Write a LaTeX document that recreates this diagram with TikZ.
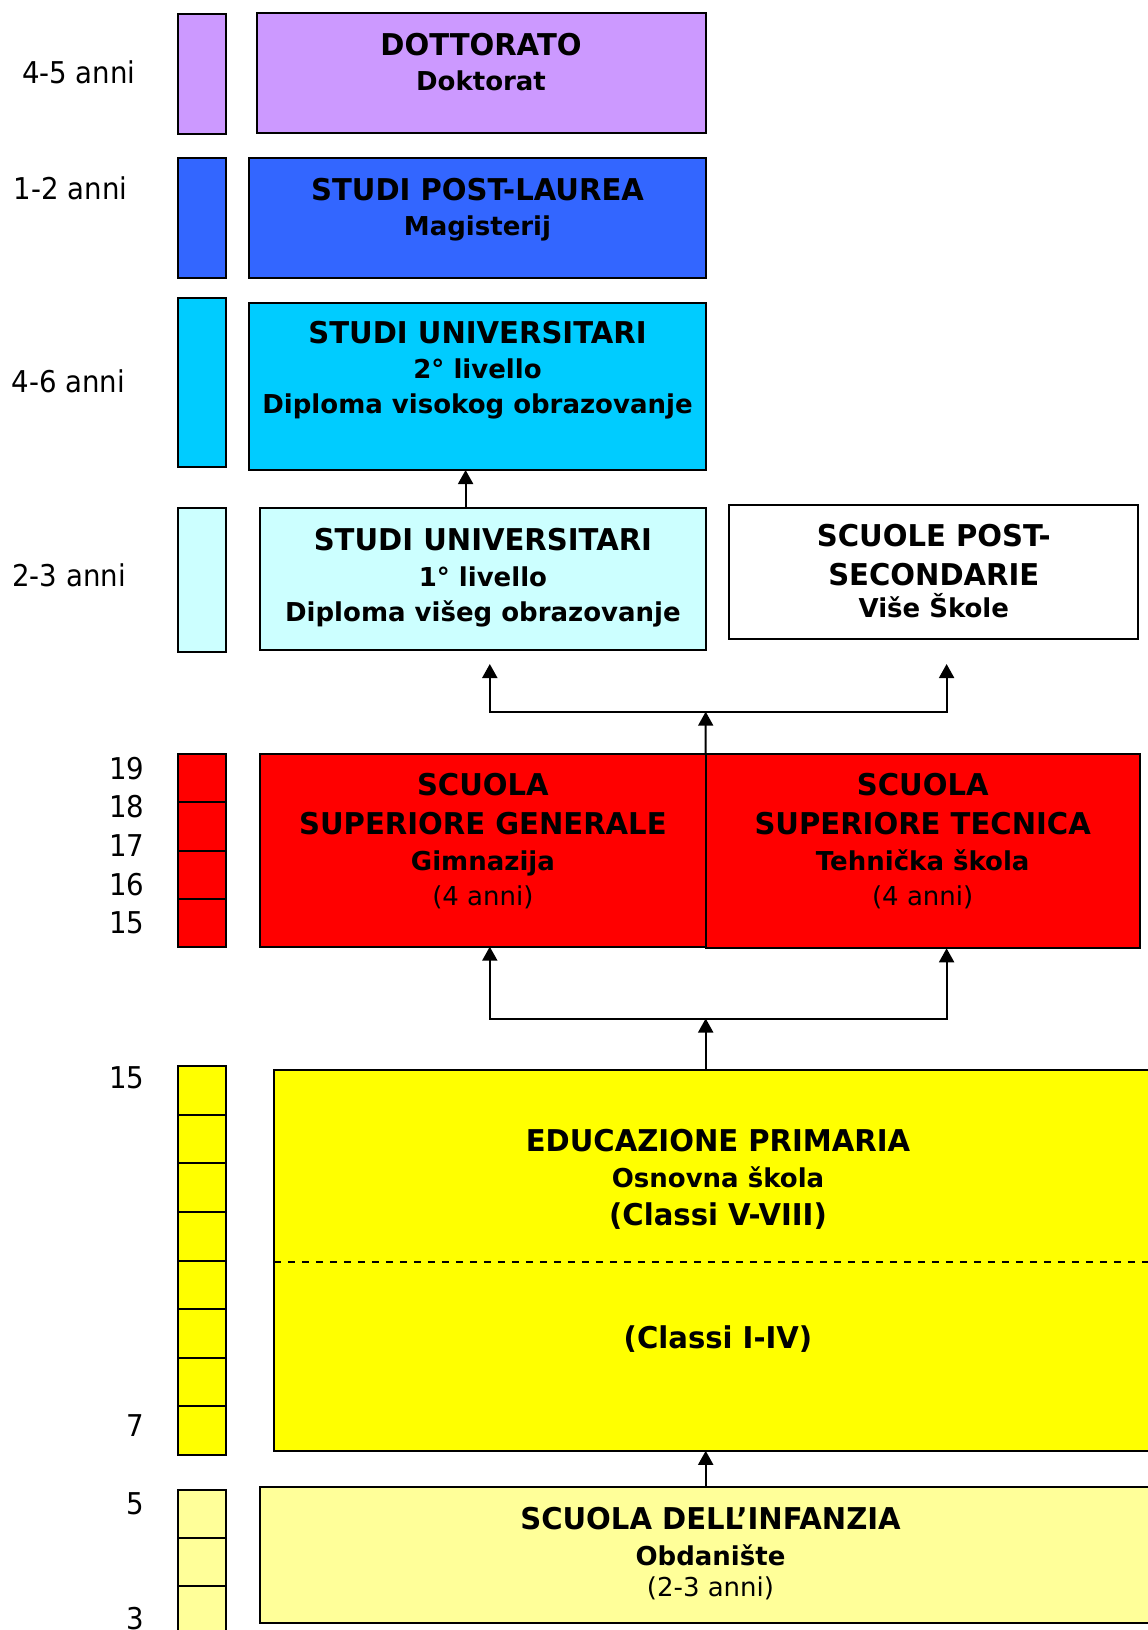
\documentclass[tikz,border=0pt]{standalone}
\usepackage{fontspec}
\setmainfont{DejaVu Sans}
\newfontfamily\capf{DejaVu Sans}[FakeStretch=0.97]
\newfontfamily\labf{DejaVu Sans}[FakeStretch=0.92]
\usetikzlibrary{arrows.meta}
\definecolor{cDoc}{HTML}{CC99FF}
\definecolor{cPL}{HTML}{3366FF}
\definecolor{cUtwo}{HTML}{00CCFF}
\definecolor{cUone}{HTML}{CCFFFF}
\definecolor{cRed}{HTML}{FF0000}
\definecolor{cYel}{HTML}{FFFF00}
\definecolor{cLY}{HTML}{FFFF99}
\tikzset{
  box/.style={draw=black, line width=2pt, inner sep=0pt, outer sep=0pt, anchor=north west},
  stripbox/.style={draw=black, line width=2pt},
  capt/.style={inner sep=0pt, outer sep=0pt, anchor=base, font=\capf\bfseries\fontsize{30}{36}\selectfont},
  lowt/.style={inner sep=0pt, outer sep=0pt, anchor=base, font=\bfseries\fontsize{26}{31}\selectfont},
  regt/.style={inner sep=0pt, outer sep=0pt, anchor=base, font=\fontsize{26}{31}\selectfont},
  labt/.style={inner sep=0pt, outer sep=0pt, font=\labf\fontsize{30}{36}\selectfont},
  arr/.style={line width=2pt, -{Triangle[length=14pt,width=15pt]}},
  arrtwo/.style={line width=2pt, {Triangle[length=14pt,width=15pt]}-{Triangle[length=14pt,width=15pt]}}
}
\begin{document}
\begin{tikzpicture}[x=1pt,y=-1pt]
\useasboundingbox (0,0) rectangle (1148,1630);

% ---- left strips ----
\draw[stripbox, fill=cDoc] (178,14.3) rectangle (226,134.3);
\draw[stripbox, fill=cPL] (178,158.3) rectangle (226,278.3);
\draw[stripbox, fill=cUtwo] (178,298.3) rectangle (226,466.7);
\draw[stripbox, fill=cUone] (178,507.7) rectangle (226,652.3);
\draw[stripbox, fill=cRed] (178,754.3) rectangle (226,946.7);
\foreach \k in {1,2,3} \draw[line width=2pt] (178,{754.3+48.1*\k}) -- (226,{754.3+48.1*\k});
\draw[stripbox, fill=cYel] (178,1066.3) rectangle (226,1454.8);
\foreach \k in {1,...,7} \draw[line width=2pt] (178,{1066.3+48.56*\k}) -- (226,{1066.3+48.56*\k});
\draw[stripbox, fill=cLY] (178,1490) rectangle (226,1660);
\foreach \k in {1,2,3} \draw[line width=2pt] (178,{1490+48*\k}) -- (226,{1490+48*\k});

% ---- left labels ----
\node[labt, anchor=base west] (l45) at (22,83.3) {4-5 anni};
\node[labt, anchor=base west] (l12) at (13.8,199.3) {1-2 anni};
\node[labt, anchor=base west] (l46) at (11.5,392.7) {4-6 anni};
\node[labt, anchor=base west] (l23) at (12.4,586) {2-3 anni};
\node[labt, anchor=base east] (n19) at (144.5,779) {19};
\node[labt, anchor=base east] (n18) at (144.5,817.7) {18};
\node[labt, anchor=base east] (n17) at (144.5,856) {17};
\node[labt, anchor=base east] (n16) at (144.5,895) {16};
\node[labt, anchor=base east] (n15a) at (144.5,933.3) {15};
\node[labt, anchor=base east] (n15b) at (144.5,1088.4) {15};
\node[labt, anchor=base east] (n7) at (144.5,1436) {7};
\node[labt, anchor=base east] (n5) at (144.5,1514.3) {5};
\node[labt, anchor=base east] (n3) at (144.5,1629) {3};

% ---- boxes ----
\node[box, fill=cDoc, minimum width=448.7, minimum height=120] (doct) at (257,12.7) {};
\node[box, fill=cPL, minimum width=456.4, minimum height=120] (pl) at (249.3,158.3) {};
\node[box, fill=cUtwo, minimum width=456.4, minimum height=167.3] (utwo) at (249.3,302.7) {};
\node[box, fill=cUone, minimum width=445.7, minimum height=142.3] (uone) at (260,507.7) {};
\node[box, fill=white, minimum width=409, minimum height=133.4] (ps) at (729.3,505.3) {};
\node[box, fill=cRed, minimum width=445.7, minimum height=192.4] (rl) at (260,754.3) {};
\node[box, fill=cRed, minimum width=434.1, minimum height=194] (rr) at (705.7,754.3) {};
\node[box, fill=cYel, minimum width=888.2, minimum height=380.5] (yel) at (273.8,1070.3) {};
\node[box, fill=cLY, minimum width=902, minimum height=135.7] (ly) at (260,1487) {};

% dashed divider
\coordinate (dsh) at (0,1262.4);
\draw[line width=2pt, dash pattern=on 7pt off 7pt] (yel.west |- dsh) -- (yel.east |- dsh);

% ---- texts ----
\node[capt] (doct1) at (481,55) {DOTTORATO};
\node[lowt] (doct2) at (481,90.7) {Doktorat};

\node[capt] (pl1) at (477.5,200) {STUDI POST-LAUREA};
\node[lowt] (pl2) at (477.5,235.7) {Magisterij};

\node[capt] (utwo1) at (477.5,343.3) {STUDI UNIVERSITARI};
\node[lowt] (utwo2) at (477.5,378.3) {2° livello};
\node[lowt] (utwo3) at (477.5,413.3) {Diploma visokog obrazovanje};

\node[capt] (uone1) at (482.9,550) {STUDI UNIVERSITARI};
\node[lowt] (uone2) at (482.9,586.7) {1° livello};
\node[lowt] (uone3) at (482.9,621.7) {Diploma višeg obrazovanje};

\node[capt] (ps1) at (933.8,546) {SCUOLE POST-};
\node[capt] (ps2) at (933.8,585) {SECONDARIE};
\node[lowt] (ps3) at (933.8,617.3) {Više Škole};

\node[capt] (rl1) at (482.9,795.7) {SCUOLA};
\node[capt] (rl2) at (482.9,834) {SUPERIORE GENERALE};
\node[lowt] (rl3) at (482.9,870) {Gimnazija};
\node[regt] (rl4) at (482.9,905) {(4 anni)};

\node[capt] (rr1) at (922.7,795.7) {SCUOLA};
\node[capt] (rr2) at (922.7,834) {SUPERIORE TECNICA};
\node[lowt] (rr3) at (922.7,870) {Tehnička škola};
\node[regt] (rr4) at (922.7,905) {(4 anni)};

\node[capt] (yel1) at (718,1151.5) {EDUCAZIONE PRIMARIA};
\node[lowt] (yel2) at (718,1187.6) {Osnovna škola};
\node[capt] (yel3) at (718,1225.8) {(Classi V-VIII)};
\node[capt] (yel4) at (718,1348.7) {(Classi I-IV)};

\node[capt] (ly1) at (710.5,1529.5) {SCUOLA DELL’INFANZIA};
\node[lowt] (ly2) at (710.5,1565.7) {Obdanište};
\node[regt] (ly3) at (710.5,1596.6) {(2-3 anni)};

% ---- connectors ----
\coordinate (xa) at (465.6,0);
\coordinate (xl) at (489.8,0);
\coordinate (xr) at (946.6,0);
\coordinate (jone) at (705.7,711.7);
\coordinate (jtwo) at (705.7,1018.5);
\coordinate (tl) at (489.8,664);
\coordinate (tr) at (946.6,664);

\draw[arr] (xa |- uone.north) -- (xa |- utwo.south);
\draw[arr] (rl.north east) -- (jone);
\draw[arrtwo] (tl) |- (jone) -| (tr);
\draw[arrtwo] (xl |- rl.south) |- (jtwo) -| (xr |- rr.south);
\draw[arr] (jtwo |- yel.north) -- (jtwo);
\draw[arr] (jtwo |- ly.north) -- (jtwo |- yel.south);
\end{tikzpicture}
\end{document}
